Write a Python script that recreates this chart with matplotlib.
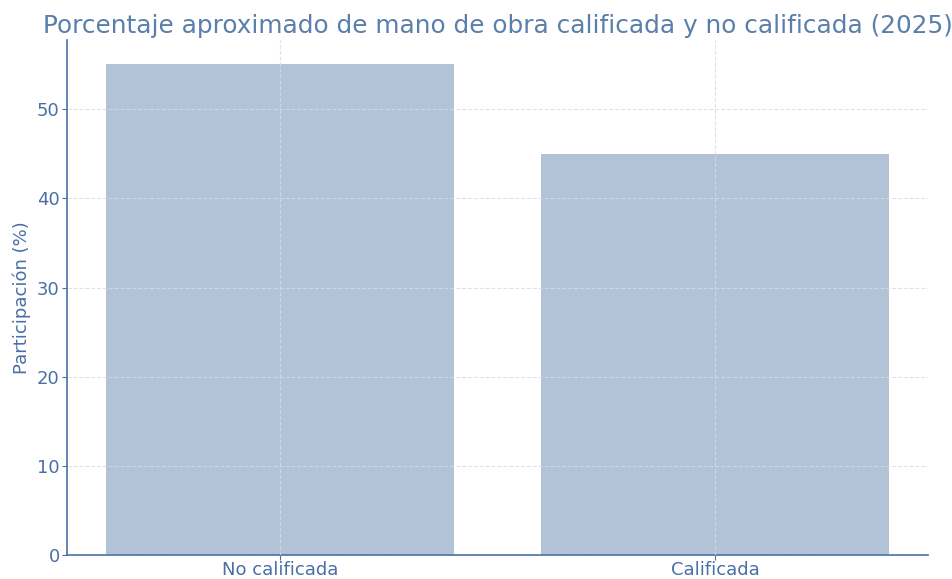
import matplotlib
matplotlib.use("Agg")
import matplotlib.pyplot as plt

categories = ["No calificada", "Calificada"]
values = [55, 45]

title = "Porcentaje aproximado de mano de obra calificada y no calificada (2025)"
ylabel = "Participación (%)"

text_color = "#4a6fa5"
title_color = "#5a7fab"
bar_color = "#b0c1d6"

fig, ax = plt.subplots(figsize=(9.53, 5.79), dpi=100)
ax.bar(categories, values, width=0.8, color=bar_color, zorder=2, alpha=0.97)
ax.set_ylim(0, max(values) * 1.05)
ax.grid(True, linestyle="--", color="#d5dbe6", linewidth=0.8, zorder=3, alpha=0.8)
ax.set_axisbelow(False)
for s in ["top", "right"]:
    ax.spines[s].set_visible(False)
for s in ["left", "bottom"]:
    ax.spines[s].set_color(text_color)
    ax.spines[s].set_linewidth(1.2)
ax.tick_params(colors=text_color, labelsize=13, length=3.5, pad=1.5)
ax.tick_params(axis="x", pad=0.5)
ax.set_ylabel(ylabel, color=text_color, fontsize=13, labelpad=4)
ax.set_title(title, color=title_color, fontsize=17.8, pad=5)
fig.subplots_adjust(left=0.07, right=0.974, top=0.931, bottom=0.041)
fig.savefig("out.png", dpi=100)
